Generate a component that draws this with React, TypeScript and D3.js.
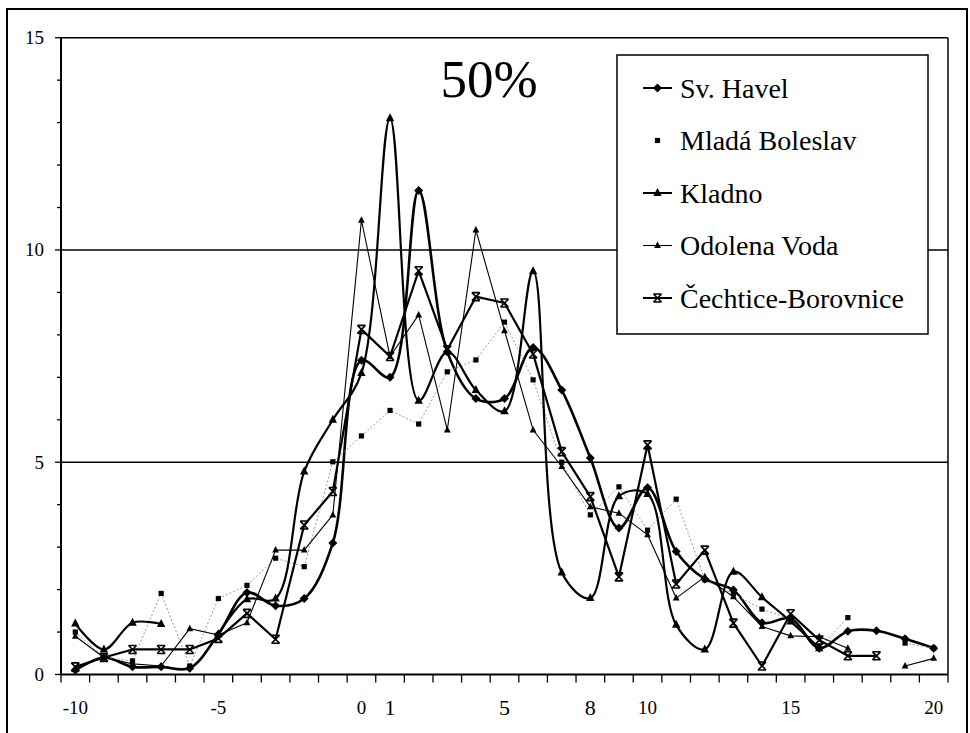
import React from "react";
import * as d3 from "d3";

const categories = [-10, -9, -8, -7, -6, -5, -4, -3, -2, -1, 0, 1, 2, 3, 4, 5, 6, 7, 8, 9, 10, 11, 12, 13, 14, 15, 16, 17, 18, 19, 20];
const xTickValues = [-10, -5, 0, 1, 5, 8, 10, 15, 20];
const xTickLabels = ["-10", "-5", "0", "1", "5", "8", "10", "15", "20"];
const xBigLabels = [1, 5, 8];
const yTickValues = [0, 5, 10, 15];
const yTickLabels = ["0", "5", "10", "15"];
const yMinorTicks = [0, 1, 2, 3, 4, 5, 6, 7, 8, 9, 10, 11, 12, 13, 14, 15];
const title = "50%";

const seriesNames = ["Sv. Havel", "Mladá Boleslav", "Kladno", "Odolena Voda", "Čechtice-Borovnice"];

const svHavel = [0.1, 0.4, 0.18, 0.18, 0.15, 0.95, 1.93, 1.62, 1.79, 3.1, 7.4, 7.0, 11.4, 7.6, 6.5, 6.5, 7.7, 6.7, 5.1, 3.45, 4.4, 2.9, 2.25, 1.99, 1.22, 1.32, 0.62, 1.02, 1.03, 0.84, 0.62];
const mladaBoleslav = [1.0, 0.4, 0.32, 1.91, 0.2, 1.79, 2.1, 2.74, 2.54, 5.01, 5.62, 6.22, 5.9, 7.13, 7.41, 8.3, 6.94, 5.0, 3.76, 4.42, 3.4, 4.13, 2.23, 1.9, 1.54, 1.3, 0.62, 1.34, null, 0.74, 0.62];
const kladno = [1.2, 0.59, 1.22, 1.19, null, 0.95, 1.77, 1.79, 4.78, 6.0, 7.1, 13.1, 6.45, 7.6, 6.7, 6.2, 9.5, 2.4, 1.8, 4.2, 4.25, 1.17, 0.59, 2.42, 1.82, 1.25, 0.62, null, null, null, null];
const odolenaVoda = [0.9, 0.4, 0.25, 0.2, 1.08, 0.93, 1.22, 2.93, 2.93, 3.76, 10.7, 7.49, 8.47, 5.76, 10.47, 8.1, 5.76, 4.9, 3.95, 3.8, 3.29, 1.8, 2.3, 1.83, 1.13, 0.91, 0.89, 0.62, null, 0.2, 0.38];
const cechtice = [0.18, 0.4, 0.59, 0.59, 0.59, 0.85, 1.44, 0.83, 3.52, 4.31, 8.13, 7.49, 9.51, 7.65, 8.9, 8.75, 7.55, 5.25, 4.19, 2.3, 5.41, 2.13, 2.93, 1.21, 0.2, 1.43, 0.81, 0.44, 0.44, null, null];

type MarkerType = "diamond" | "square" | "triangle" | "smalltriangle" | "star";

interface SeriesStyle {
  name: string;
  values: (number | null)[];
  stroke: string;
  width: number;
  dash?: string;
  smooth: boolean;
  marker: MarkerType;
  legendLine: boolean;
}

const series: SeriesStyle[] = [
  { name: seriesNames[0], values: svHavel, stroke: "#000", width: 2.6, smooth: true, marker: "diamond", legendLine: true },
  { name: seriesNames[1], values: mladaBoleslav, stroke: "#9a9a9a", width: 1, dash: "2,2", smooth: false, marker: "square", legendLine: false },
  { name: seriesNames[2], values: kladno, stroke: "#000", width: 2.2, smooth: true, marker: "triangle", legendLine: true },
  { name: seriesNames[3], values: odolenaVoda, stroke: "#000", width: 1.1, smooth: false, marker: "smalltriangle", legendLine: true },
  { name: seriesNames[4], values: cechtice, stroke: "#000", width: 2.2, smooth: false, marker: "star", legendLine: true },
];

const FONT = "'Liberation Serif', 'Times New Roman', serif";

function Marker({ type, x, y }: { type: MarkerType; x: number; y: number }) {
  switch (type) {
    case "diamond":
      return <path d={`M${x},${y - 4.5}L${x + 4.5},${y}L${x},${y + 4.5}L${x - 4.5},${y}Z`} fill="#000" />;
    case "square":
      return <rect x={x - 2.6} y={y - 2.6} width={5.2} height={5.2} fill="#000" />;
    case "triangle":
      return <path d={`M${x},${y - 5}L${x + 4.2},${y + 3}L${x - 4.2},${y + 3}Z`} fill="#000" />;
    case "smalltriangle":
      return <path d={`M${x},${y - 4}L${x + 3.4},${y + 2.5}L${x - 3.4},${y + 2.5}Z`} fill="#000" />;
    case "star":
      return (
        <path
          d={`M${x - 4},${y - 4}L${x + 4},${y - 4}M${x - 4},${y + 4}L${x + 4},${y + 4}M${x - 4},${y - 4}L${x + 4},${y + 4}M${x + 4},${y - 4}L${x - 4},${y + 4}`}
          stroke="#000"
          strokeWidth={1.6}
          fill="none"
        />
      );
  }
  return null;
}

export default function App() {
  const W = 970;
  const H = 733;
  const plot = { left: 61, right: 948, top: 37.7, bottom: 674.5 };

  const x = d3.scaleBand<number>().domain(categories).range([plot.left, plot.right]).padding(0);
  const cx = (c: number) => (x(c) as number) + x.bandwidth() / 2;
  const y = d3.scaleLinear().domain([0, 15]).range([plot.bottom, plot.top]);

  const makeLine = (smooth: boolean) =>
    d3
      .line<[number, number | null]>()
      .defined((d) => d[1] !== null)
      .x((d) => cx(d[0]))
      .y((d) => y(d[1] as number))
      .curve(smooth ? d3.curveCatmullRom.alpha(0.5) : d3.curveLinear);

  const boundaries = categories.map((c) => x(c) as number).concat([plot.right]);

  const legend = { x: 617, y: 55, w: 311, h: 279 };
  const rowY = (i: number) => legend.y + 33 + i * 52.5;

  return (
    <svg width={W} height={H} style={{ position: "absolute", left: 0, top: 0, background: "#fff" }} fontFamily={FONT}>
      <rect x={0} y={0} width={W} height={H} fill="#fff" />
      {/* outer frame */}
      <rect x={7} y={9} width={960} height={740} fill="none" stroke="#000" strokeWidth={2} />

      {/* gridlines */}
      {yTickValues
        .filter((v) => v > 0)
        .map((v) => (
          <line key={"g" + v} x1={plot.left} x2={plot.right} y1={y(v)} y2={y(v)} stroke="#000" strokeWidth={1.5} />
        ))}
      {/* plot border right */}
      <line x1={plot.right} x2={plot.right} y1={plot.top} y2={plot.bottom} stroke="#000" strokeWidth={1.5} />

      {/* y axis */}
      <line x1={plot.left} x2={plot.left} y1={plot.top} y2={plot.bottom} stroke="#000" strokeWidth={2} />
      {yMinorTicks.map((v) => (
        <line key={"yt" + v} x1={plot.left - (v % 5 === 0 ? 6 : 4)} x2={plot.left} y1={y(v)} y2={y(v)} stroke="#000" strokeWidth={1.3} />
      ))}
      {yTickValues.map((v, i) => (
        <text key={"yl" + v} x={44} y={y(v)} textAnchor="end" dominantBaseline="central" fontSize={19}>
          {yTickLabels[i]}
        </text>
      ))}

      {/* x axis */}
      <line x1={plot.left} x2={plot.right} y1={plot.bottom} y2={plot.bottom} stroke="#000" strokeWidth={2} />
      {boundaries.map((bx, i) => (
        <line key={"xt" + i} x1={bx} x2={bx} y1={plot.bottom} y2={plot.bottom + 8} stroke="#000" strokeWidth={1.3} />
      ))}
      {xTickValues.map((v, i) => {
        const big = xBigLabels.includes(v);
        return (
          <text key={"xl" + v} x={cx(v)} y={big ? 715 : 714} textAnchor="middle" fontSize={big ? 22 : 19}>
            {xTickLabels[i]}
          </text>
        );
      })}

      {/* series lines */}
      {series.map((s, si) => {
        const data = categories.map((c, i) => [c, s.values[i]] as [number, number | null]);
        return (
          <path
            key={"s" + si}
            d={makeLine(s.smooth)(data) || ""}
            fill="none"
            stroke={s.stroke}
            strokeWidth={s.width}
            strokeDasharray={s.dash}
            strokeLinejoin="round"
          />
        );
      })}
      {/* markers */}
      {series.map((s, si) => (
        <g key={"m" + si}>
          {categories.map((c, i) =>
            s.values[i] === null ? null : <Marker key={i} type={s.marker} x={cx(c)} y={y(s.values[i] as number)} />
          )}
        </g>
      ))}

      {/* title */}
      <text x={489} y={97} textAnchor="middle" fontSize={53}>
        {title}
      </text>

      {/* legend */}
      <rect x={legend.x} y={legend.y} width={legend.w} height={legend.h} fill="#fff" stroke="#000" strokeWidth={1.5} />
      {series.map((s, i) => (
        <g key={"lg" + i}>
          {s.legendLine && (
            <line x1={643} x2={672} y1={rowY(i)} y2={rowY(i)} stroke={s.stroke} strokeWidth={Math.min(s.width, 2)} />
          )}
          <Marker type={s.marker} x={657.5} y={rowY(i)} />
          <text x={680} y={rowY(i)} dominantBaseline="central" fontSize={28}>
            {s.name}
          </text>
        </g>
      ))}
    </svg>
  );
}
